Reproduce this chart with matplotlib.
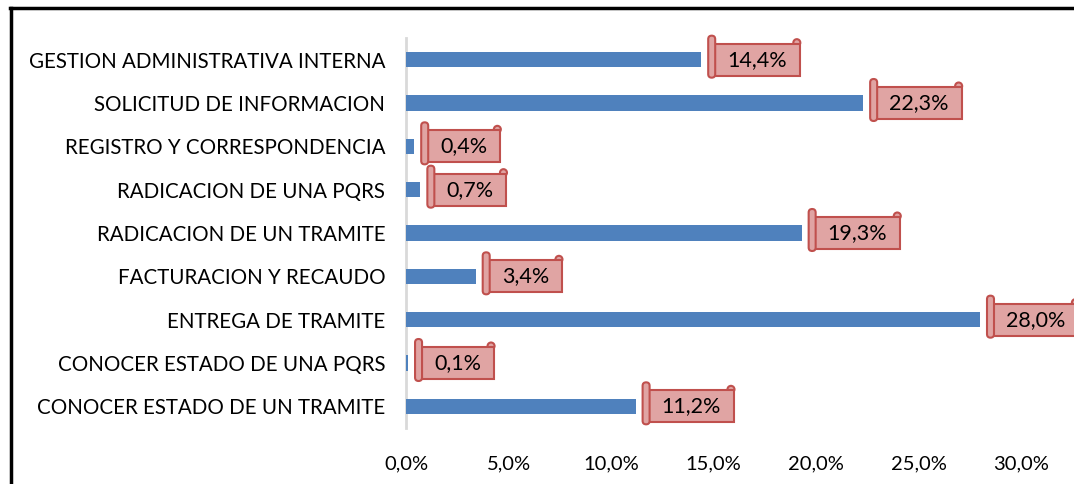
import numpy as np
import matplotlib
matplotlib.use("Agg")
import matplotlib.pyplot as plt
from matplotlib.patches import Rectangle, FancyBboxPatch, Circle
from matplotlib.lines import Line2D
from matplotlib.ticker import FuncFormatter

plt.rcParams['font.family'] = ['Lato', 'DejaVu Sans']

# categories from bottom to top, values in percent
categories = [
    "CONOCER ESTADO DE UN TRAMITE",
    "CONOCER ESTADO DE UNA PQRS",
    "ENTREGA DE TRAMITE",
    "FACTURACION Y RECAUDO",
    "RADICACION DE UN TRAMITE",
    "RADICACION DE UNA PQRS",
    "REGISTRO Y CORRESPONDENCIA",
    "SOLICITUD DE INFORMACION",
    "GESTION ADMINISTRATIVA INTERNA",
]
values = [11.2, 0.1, 28.0, 3.4, 19.3, 0.7, 0.4, 22.3, 14.4]
xticks = [0, 5, 10, 15, 20, 25, 30]

W, H = 1074, 484
fig = plt.figure(figsize=(W / 100, H / 100), dpi=100)
ax = fig.add_axes([406 / W, 1 - 428 / H, (1021 - 406) / W, (428 - 38) / H])

y = np.arange(len(categories))
ax.set_ylim(-0.5, len(categories) - 0.5)
ax.set_xlim(0, 30)
ax.set_yticks(y)
ax.set_yticklabels(categories, fontsize=14.8, color='black')
ax.set_xticks(xticks)
ax.xaxis.set_major_formatter(FuncFormatter(lambda v, p: f"{v:.1f}%".replace('.', ',')))
ax.tick_params(axis='x', labelsize=14.5, length=0, pad=20)
ax.tick_params(axis='y', length=0, pad=15)
for s in ['top', 'right', 'bottom']:
    ax.spines[s].set_visible(False)
ax.spines['left'].set_color('#D9D9D9')
ax.spines['left'].set_linewidth(2)
ax.spines['left'].set_zorder(1)
ax.patch.set_alpha(0)
# bars drawn above the light axis line so the 0,1% sliver shows
ax.barh(y, values, height=0.35, color='#4F81BD', zorder=3)

# data labels as little scrolls
edge = '#C0504D'
face = '#E0A4A3'
renderer = fig.canvas.get_renderer()
for yi, v in zip(y, values):
    xd, yd = ax.transData.transform((v, yi))
    txt = f"{v:.1f}%".replace('.', ',')
    x0 = xd + 7
    t = fig.text(0, 0, txt, fontsize=15.5, color='black', ha='center', va='center', zorder=6)
    tw = t.get_window_extent(renderer).width
    rw = tw + 30
    rh = 32
    rect = Rectangle((x0 + 2, yd - rh / 2), rw, rh, transform=None,
                     facecolor=face, edgecolor=edge, linewidth=1.5, zorder=4)
    fig.add_artist(rect)
    roll = FancyBboxPatch((x0, yd - rh / 2 - 2), 7, rh + 10,
                          boxstyle="round,pad=0,rounding_size=3.5", transform=None,
                          facecolor=face, edgecolor=edge, linewidth=1.5, zorder=5)
    fig.add_artist(roll)
    curl = Circle((x0 + 2 + rw - 3, yd - rh / 2 + 1 + rh), 3.5, transform=None,
                  facecolor=face, edgecolor=edge, linewidth=1.5, zorder=3)
    fig.add_artist(curl)
    t.set_transform(None)
    t.set_position((x0 + 4 + rw / 2, yd))

# outer frame (only top and left visible in the crop)
fig.add_artist(Line2D([10.5 / W, 10.5 / W], [0, 1 - 8 / H], color='black', linewidth=2.5))
fig.add_artist(Line2D([10 / W, 1], [1 - 8 / H, 1 - 8 / H], color='black', linewidth=2.5))

fig.savefig("out.png", dpi=100)
